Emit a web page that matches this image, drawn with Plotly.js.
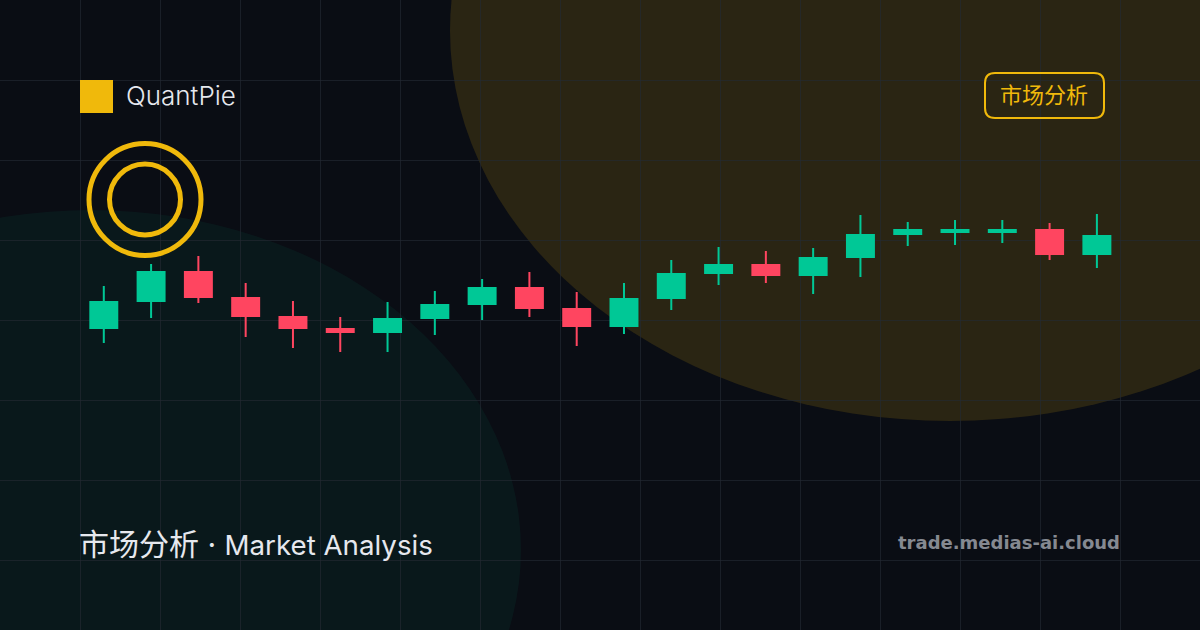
<!DOCTYPE html>
<html><head><meta charset="utf-8">
<script src="https://cdn.plot.ly/plotly-3.0.1.min.js"></script>
<style>html,body{margin:0;padding:0;background:#0a0d14;overflow:hidden}#c{width:1200px;height:630px}</style>
</head><body><div id="c"></div>
<script>
const sessions = [1,2,3,4,5,6,7,8,9,10,11,12,13,14,15,16,17,18,19,20,21,22];
const open  = [30.2,32.9,35.8,33.2,31.3,30.1,29.8,31.2,32.6,34.2,32.1,30.4,33.2,35.7,36.5,35.5,37.3,39.6,39.8,39.8,40.0,37.6];
const close = [32.8,35.8,33.3,31.4,30.2,29.8,31.1,32.5,34.2,32.2,30.4,33.1,35.6,36.5,35.5,37.2,39.5,40.0,40.0,40.0,37.6,39.4];
const high  = [34.4,36.6,37.4,34.7,32.9,31.3,32.8,33.9,35.1,35.8,33.8,34.7,37.0,38.3,37.9,38.2,41.5,40.8,41.0,41.0,40.7,41.6];
const low   = [28.7,31.2,32.7,29.3,28.2,27.8,27.8,29.5,31.0,31.3,28.4,29.6,32.0,34.5,34.7,33.6,35.3,38.4,38.5,38.7,37.0,36.2];

const BG='#0a0d14', GRID='rgba(36,42,50,0.65)', UP='#00c896', DOWN='#ff4560', GOLD='#f0b90b';
const STEP=47.29, FIRST=103.8;
const FONT='Inter, "Noto Sans CJK SC", sans-serif';

const trace={type:'candlestick',x:sessions,open,high,low,close,xaxis:'x2',yaxis:'y2',
  whiskerwidth:0,hoverinfo:'skip',showlegend:false,
  increasing:{line:{color:UP,width:2},fillcolor:UP},
  decreasing:{line:{color:DOWN,width:2},fillcolor:DOWN}};

const noText={showticklabels:false,ticks:'',zeroline:false,showline:false};
const layout={width:1200,height:630,margin:{l:0,r:0,t:0,b:0},paper_bgcolor:BG,plot_bgcolor:'rgba(0,0,0,0)',
  showlegend:false,dragmode:false,boxgap:0.43,boxgroupgap:0,
  xaxis:{...noText,range:[0,1200],tick0:0,dtick:80,showgrid:true,gridcolor:GRID,gridwidth:1,fixedrange:true},
  yaxis:{...noText,range:[630,0],tick0:0,dtick:80,showgrid:true,gridcolor:GRID,gridwidth:1,fixedrange:true},
  xaxis2:{...noText,overlaying:'x',anchor:'y2',showgrid:false,rangeslider:{visible:false},
    range:[1-FIRST/STEP,1+(1200-FIRST)/STEP],fixedrange:true},
  yaxis2:{...noText,overlaying:'y',anchor:'x2',showgrid:false,range:[0,63],fixedrange:true},
  shapes:[
    {type:'circle',layer:'below',xref:'x',yref:'y',x0:450,x1:1450,y0:-360,y1:421,line:{width:0},fillcolor:'rgba(240,185,11,0.14)'},
    {type:'circle',layer:'below',xref:'x',yref:'y',x0:-339,x1:521,y0:210,y1:890,line:{width:0},fillcolor:'rgba(0,200,150,0.06)'},
    {type:'rect',layer:'above',xref:'x',yref:'y',x0:80,x1:113,y0:80,y1:113,line:{width:0},fillcolor:GOLD},
    {type:'circle',layer:'above',xref:'x',yref:'y',x0:89,x1:201,y0:143.5,y1:255.5,line:{color:GOLD,width:5},fillcolor:'rgba(0,0,0,0)'},
    {type:'circle',layer:'above',xref:'x',yref:'y',x0:109.5,x1:180.5,y0:164,y1:235,line:{color:GOLD,width:5},fillcolor:'rgba(0,0,0,0)'},
    {type:'path',layer:'above',xref:'x',yref:'y',
     path:'M 995 73 L 1094 73 Q 1104 73 1104 83 L 1104 108 Q 1104 118 1094 118 L 995 118 Q 985 118 985 108 L 985 83 Q 985 73 995 73 Z',
     line:{color:GOLD,width:2},fillcolor:'rgba(0,0,0,0)'}
  ],
  annotations:[
    {text:'QuantPie',xref:'x',yref:'y',x:125,y:95,xanchor:'left',yanchor:'middle',showarrow:false,borderpad:0,
     font:{family:FONT,size:26,weight:300,color:'#e6e8ee'}},
    {text:'市场分析',xref:'x',yref:'y',x:1043.5,y:95,xanchor:'center',yanchor:'middle',showarrow:false,borderpad:0,
     font:{family:FONT,size:22,color:GOLD}},
    {text:'<span style="font-size:30px">市场分析 · </span>Market Analysis',xref:'x',yref:'y',x:78,y:544,xanchor:'left',yanchor:'middle',showarrow:false,borderpad:0,
     font:{family:FONT,size:27.7,weight:400,color:'#e6e8ee'}},
    {text:'trade.medias-ai.cloud',xref:'x',yref:'y',x:1121,y:542,xanchor:'right',yanchor:'middle',showarrow:false,borderpad:0,
     font:{family:'"DejaVu Sans", sans-serif',size:18,weight:700,color:'#858991'}}
  ]};
Plotly.newPlot('c',[trace],layout,{staticPlot:true,displayModeBar:false});
</script></body></html>
